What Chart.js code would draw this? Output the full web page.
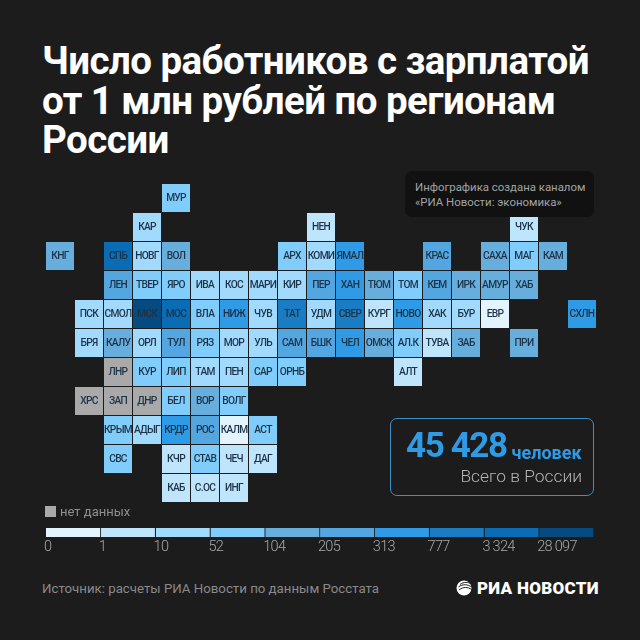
<!DOCTYPE html>
<html lang="ru">

<head>
  <meta charset="utf-8">
  <title>Число работников с зарплатой от 1 млн рублей по регионам России</title>
  <script src="https://cdn.jsdelivr.net/npm/chart.js@4"></script>
  <style>
    html, body { margin: 0; padding: 0; }
    body { width: 640px; height: 640px; background: #1c1c1c; position: relative; overflow: hidden; font-family: Roboto, sans-serif; }
    body > * { position: absolute; }
    h1 { left: 42px; top: 41px; margin: 0; font-size: 38.5px; line-height: 39.5px; font-weight: 700; color: #fff; white-space: nowrap; letter-spacing: -0.55px; }
    #info { left: 405px; top: 171px; width: 189px; height: 46px; box-sizing: border-box; background: #111; border-radius: 7px; padding: 9px 0 0 10px; font-size: 11.4px; line-height: 14.5px; color: #a3a3a3; white-space: nowrap; }
    #mapChart { left: 45px; top: 182px; }
    #legendChart { left: 40px; top: 528px; }
    #totalBox { left: 390px; top: 418px; width: 204px; height: 78px; box-sizing: border-box; border: 1.5px solid #3f8fc7; border-radius: 7px; }
    #totalNum { left: 406px; top: 424px; font-size: 35px; line-height: 44px; font-weight: 700; color: #2f9be6; white-space: nowrap; letter-spacing: -1.4px; }
    #totalUnit { left: 511.5px; top: 443px; font-size: 18px; line-height: 20px; font-weight: 700; color: #2f9be6; white-space: nowrap; }
    #totalNote { right: 58px; top: 466px; font-size: 17.4px; line-height: 20px; font-weight: 300; color: #b5b5b5; white-space: nowrap; }
    #noDataBox { left: 45px; top: 506px; width: 11px; height: 11px; background: #a9a9a9; }
    #noDataText { left: 60px; top: 503px; font-size: 13px; line-height: 17px; color: #8f8f8f; white-space: nowrap; }
    #source { left: 42px; top: 580px; font-size: 13.25px; line-height: 18px; color: #8a8a8a; white-space: nowrap; }
    #logo { left: 456px; top: 580px; }
    #logoText { left: 477px; top: 577px; font-size: 17px; line-height: 22px; font-weight: 900; color: #fff; white-space: nowrap; letter-spacing: 0.3px; }
  </style>
</head>

<body>
  <h1>Число работников с зарплатой<br>от 1 млн рублей по регионам<br>России</h1>

  <canvas id="mapChart" width="552" height="322"></canvas>
  <div id="info">Инфографика создана каналом<br>«РИА Новости: экономика»</div>

  <div id="totalBox"></div>
  <div id="totalNum">45 428</div>
  <div id="totalUnit">человек</div>
  <div id="totalNote">Всего в России</div>

  <div id="noDataBox"></div>
  <div id="noDataText">нет данных</div>
  <canvas id="legendChart" width="570" height="32"></canvas>

  <div id="source">Источник: расчеты РИА Новости по данным Росстата</div>
  <svg id="logo" width="16" height="16" viewBox="0 0 16 16">
    <circle cx="8" cy="8" r="7.5" fill="#fff"></circle>
    <path d="M4 4.5 C8 1.5 12 2 15.5 4 M2.5 7 C7 3.5 12 4.5 15.5 7 M3 10 C7 6.5 12 7 15.5 9.5" fill="none" stroke="#1c1c1c" stroke-width="1"></path>
  </svg>
  <div id="logoText">РИА НОВОСТИ</div>

  <script>
    const regionCodes = [
      'МУР',
      'КАР', 'НЕН', 'ЧУК',
      'КНГ', 'СПБ', 'НОВГ', 'ВОЛ', 'АРХ', 'КОМИ', 'ЯМАЛ', 'КРАС', 'САХА', 'МАГ', 'КАМ',
      'ЛЕН', 'ТВЕР', 'ЯРО', 'ИВА', 'КОС', 'МАРИ', 'КИР', 'ПЕР', 'ХАН', 'ТЮМ', 'ТОМ', 'КЕМ', 'ИРК', 'АМУР', 'ХАБ',
      'ПСК', 'СМОЛ', 'МСК', 'МОС', 'ВЛА', 'НИЖ', 'ЧУВ', 'ТАТ', 'УДМ', 'СВЕР', 'КУРГ', 'НОВО', 'ХАК', 'БУР', 'ЕВР', 'СХЛН',
      'БРЯ', 'КАЛУ', 'ОРЛ', 'ТУЛ', 'РЯЗ', 'МОР', 'УЛЬ', 'САМ', 'БШК', 'ЧЕЛ', 'ОМСК', 'АЛ.К', 'ТУВА', 'ЗАБ', 'ПРИ',
      'ЛНР', 'КУР', 'ЛИП', 'ТАМ', 'ПЕН', 'САР', 'ОРНБ', 'АЛТ',
      'ХРС', 'ЗАП', 'ДНР', 'БЕЛ', 'ВОР', 'ВОЛГ',
      'КРЫМ', 'АДЫГ', 'КРДР', 'РОС', 'КАЛМ', 'АСТ',
      'СВС', 'КЧР', 'СТАВ', 'ЧЕЧ', 'ДАГ',
      'КАБ', 'С.ОС', 'ИНГ'
    ];
    const regionCols = [
      4,
      3, 9, 16,
      0, 2, 3, 4, 8, 9, 10, 13, 15, 16, 17,
      2, 3, 4, 5, 6, 7, 8, 9, 10, 11, 12, 13, 14, 15, 16,
      1, 2, 3, 4, 5, 6, 7, 8, 9, 10, 11, 12, 13, 14, 15, 18,
      1, 2, 3, 4, 5, 6, 7, 8, 9, 10, 11, 12, 13, 14, 16,
      2, 3, 4, 5, 6, 7, 8, 12,
      1, 2, 3, 4, 5, 6,
      2, 3, 4, 5, 6, 7,
      2, 4, 5, 6, 7,
      4, 5, 6
    ];
    const regionRows = [
      0,
      1, 1, 1,
      2, 2, 2, 2, 2, 2, 2, 2, 2, 2, 2,
      3, 3, 3, 3, 3, 3, 3, 3, 3, 3, 3, 3, 3, 3, 3,
      4, 4, 4, 4, 4, 4, 4, 4, 4, 4, 4, 4, 4, 4, 4, 4,
      5, 5, 5, 5, 5, 5, 5, 5, 5, 5, 5, 5, 5, 5, 5,
      6, 6, 6, 6, 6, 6, 6, 6,
      7, 7, 7, 7, 7, 7,
      8, 8, 8, 8, 8, 8,
      9, 9, 9, 9, 9,
      10, 10, 10
    ];
    // null = нет данных
    const regionValues = [
      70,
      45, 5, 6,
      130, 4200, 35, 150, 75, 40, 600, 290, 140, 60, 120,
      210, 60, 85, 30, 15, 12, 40, 280, 700, 180, 75, 250, 190, 110, 170,
      20, 40, 28097, 4800, 95, 500, 40, 1100, 48, 1000, 9, 450, 12, 30, 0, 400,
      30, 170, 25, 240, 60, 20, 45, 300, 260, 340, 160, 90, 3, 130, 190,
      null, 65, 80, 30, 40, 70, 95, 8,
      null, null, null, 90, 175, 95,
      75, 25, 550, 300, 0, 80,
      60, 7, 75, 9, 8,
      5, 4, 2
    ];

    const legendLabels = ['0', '1', '10', '52', '104', '205', '313', '777', '3 324', '28 097'];
    const legendThresholds = [0, 1, 10, 52, 104, 205, 313, 777, 3324, 28097];
    const legendColors = ['#e3f4fe', '#bfe5fd', '#a2dafd', '#80cdfb', '#68aedd', '#53a6df', '#2f9be6', '#1a7dc4', '#0a6cb4', '#064a80'];
    const noDataColor = '#a9a9a9';

    function colorFor(value) {
      if (value === null) return noDataColor;
      let idx = 0;
      for (let i = 0; i < legendThresholds.length; i++) {
        if (value >= legendThresholds[i]) idx = i;
      }
      return legendColors[idx];
    }

    Chart.defaults.font.family = 'Roboto, sans-serif';
    Chart.defaults.animation = false;

    // подписи регионов внутри клеток
    const tileLabels = {
      id: 'tileLabels',
      afterDatasetsDraw(chart) {
        const { ctx, scales } = chart;
        ctx.save();
        ctx.font = '500 10.2px Roboto, sans-serif';
        ctx.letterSpacing = '-0.7px';
        ctx.fillStyle = '#1d3347';
        ctx.textAlign = 'center';
        ctx.textBaseline = 'middle';
        regionCodes.forEach(function (code, i) {
          ctx.fillText(code, scales.x.getPixelForValue(regionCols[i]), scales.y.getPixelForValue(regionRows[i]) + 0.5);
        });
        ctx.restore();
      }
    };

    // подписи шкалы: слева от начала сегмента, как в оригинале
    const scaleLabels = {
      id: 'scaleLabels',
      afterDraw(chart) {
        const { ctx, scales, chartArea } = chart;
        ctx.save();
        ctx.font = '300 14.5px Roboto, sans-serif';
        ctx.letterSpacing = '-0.7px';
        ctx.fillStyle = '#a8a8a8';
        ctx.textAlign = 'left';
        ctx.textBaseline = 'alphabetic';
        legendLabels.forEach(function (label, i) {
          ctx.fillText(label, scales.x.getPixelForValue(i) - 2, chartArea.bottom + 13.5);
        });
        ctx.restore();
      }
    };

    new Chart(document.getElementById('mapChart'), {
      type: 'scatter',
      data: {
        datasets: [{
          data: regionCodes.map((code, i) => ({ x: regionCols[i], y: regionRows[i] })),
          backgroundColor: regionValues.map(colorFor),
          pointStyle: 'rect',
          pointRadius: 19.8,
          pointHoverRadius: 19.8,
          borderWidth: 0
        }]
      },
      options: {
        responsive: false,
        layout: { autoPadding: false, padding: { left: 0.5, right: 0.5, top: 1.5, bottom: 1.5 } },
        plugins: { legend: { display: false }, tooltip: { enabled: false } },
        scales: {
          x: { type: 'linear', min: -0.5, max: 18.5, display: false },
          y: { type: 'linear', min: -0.5, max: 10.5, reverse: true, display: false }
        }
      },
      plugins: [tileLabels]
    });

    new Chart(document.getElementById('legendChart'), {
      type: 'bar',
      data: {
        labels: [''],
        datasets: legendLabels.map((label, i) => ({
          label: label,
          data: [1],
          backgroundColor: legendColors[i],
          borderColor: '#1c1c1c',
          borderWidth: { right: 1 },
          borderSkipped: false,
          barPercentage: 1,
          categoryPercentage: 1
        }))
      },
      options: {
        indexAxis: 'y',
        responsive: false,
        layout: { autoPadding: false, padding: { left: 6, right: 16 } },
        plugins: { legend: { display: false }, tooltip: { enabled: false } },
        scales: {
          x: {
            stacked: true,
            min: 0,
            max: legendLabels.length,
            afterFit(scale) { scale.height = 23; },
            grid: { display: false },
            border: { display: false },
            ticks: { display: false }
          },
          y: { stacked: true, display: false }
        }
      },
      plugins: [scaleLabels]
    });
  </script>
</body>

</html>
